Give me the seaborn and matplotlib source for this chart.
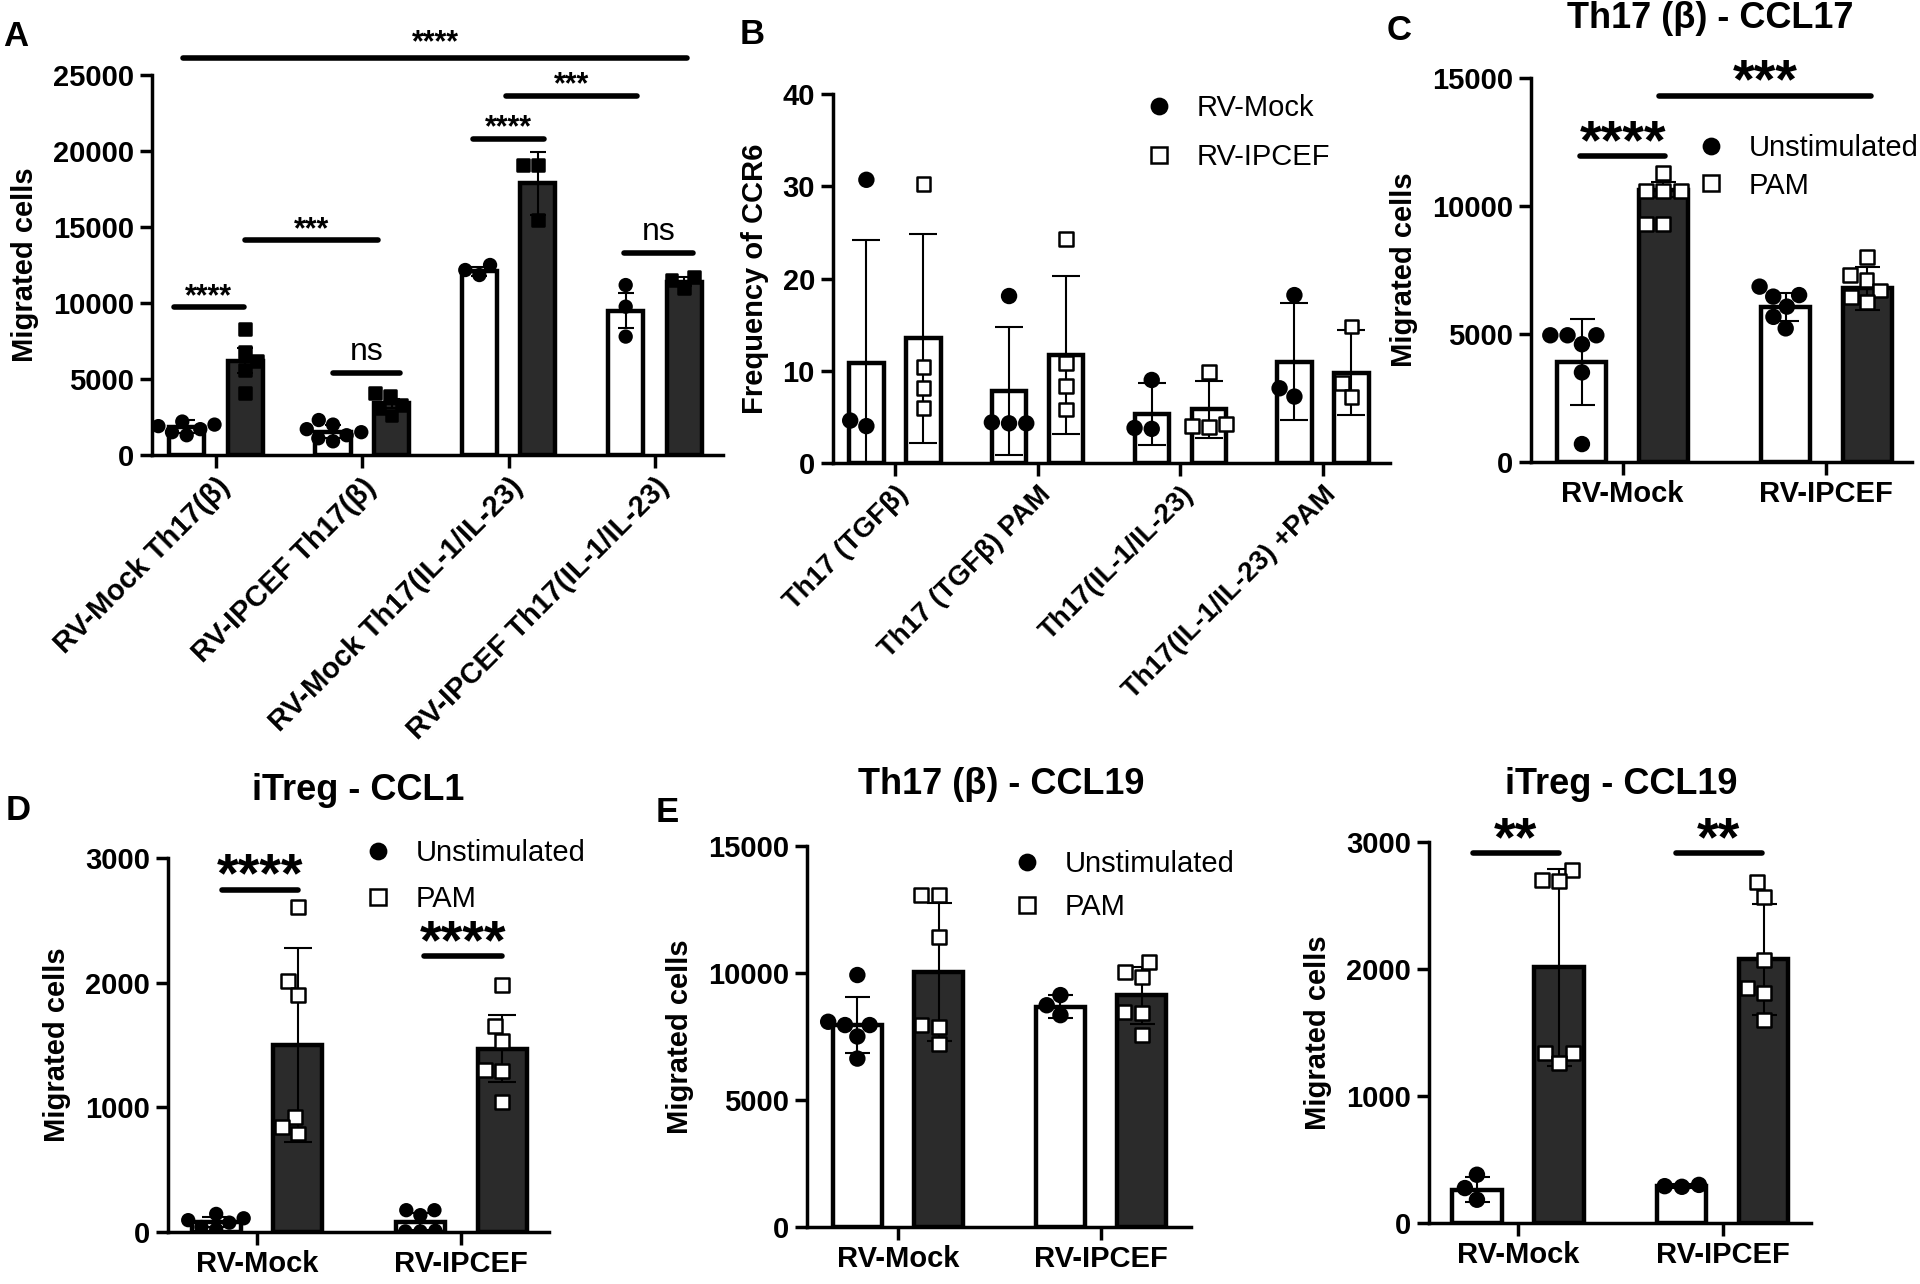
import numpy as np
import pandas as pd
import matplotlib
matplotlib.use('Agg')
import matplotlib.pyplot as plt
import seaborn as sns
from matplotlib.lines import Line2D

sns.set_theme(style='ticks')
plt.rcParams['font.family'] = ['Liberation Sans', 'DejaVu Sans']
plt.rcParams.update({'text.color': 'black', 'axes.labelcolor': 'black',
                     'xtick.color': 'black', 'ytick.color': 'black',
                     'axes.edgecolor': 'black'})

W, H = 1920, 1284

# %% podaci

# A - migracija po grupama
a_groups = ['RV-Mock Th17(β)', 'RV-IPCEF Th17(β)',
            'RV-Mock Th17(IL-1/IL-23)', 'RV-IPCEF Th17(IL-1/IL-23)']
a_conds = ['Unstimulated', 'PAM']
a_white_mean = [1870, 1540, 12100, 9500]
a_white_sd = [420, 450, 300, 1140]
a_dark_mean = [6200, 3400, 17870, 11400]
a_dark_sd = [810, 300, 2090, 300]
a_white_pts = [[2500, 2200, 2000, 1900, 1700, 1500, 1300],
               [2300, 2000, 1700, 1500, 1300, 1100, 900],
               [12500, 12170, 11840],
               [11180, 9760, 7790]]
a_dark_pts = [[8300, 6800, 6200, 5600, 4100],
              [4100, 3900, 3300, 3100, 2600],
              [19080, 19080, 15460],
              [11700, 11500, 11000]]

# B - frekvencija CCR6
b_groups = ['Th17 (TGFβ)', 'Th17 (TGFβ) PAM', 'Th17(IL-1/IL-23)', 'Th17(IL-1/IL-23) +PAM']
b_conds = ['RV-Mock', 'RV-IPCEF']
b_mock_mean = [10.8, 7.8, 5.3, 11.0]
b_mock_sd = [13.4, 6.9, 3.4, 6.3]
b_ipcef_mean = [13.5, 11.7, 5.8, 9.8]
b_ipcef_sd = [11.3, 8.6, 3.1, 4.6]
b_mock_pts = [[30.7, 4.6, 4.0], [18.1, 4.4, 4.3, 4.3], [9.0, 3.8, 3.7], [18.2, 8.1, 7.2]]
b_ipcef_pts = [[30.2, 10.4, 8.1, 6.0], [24.3, 10.8, 8.3, 5.8], [9.9, 4.2, 4.0, 3.9], [14.8, 8.7, 7.2]]

# C - Th17 (beta) CCL17
c_groups = ['RV-Mock', 'RV-IPCEF']
c_conds = ['Unstimulated', 'PAM']
c_unst_mean = [3900, 6070]
c_unst_sd = [1680, 550]
c_pam_mean = [10630, 6780]
c_pam_sd = [290, 850]
c_unst_pts = [[4950, 4950, 4950, 4600, 3500, 700], [6850, 6520, 6460, 6070, 5670, 5220]]
c_pam_pts = [[11300, 10600, 10600, 10600, 9300, 9300], [8020, 7300, 7110, 6700, 6460, 6260]]

# D - iTreg CCL1
d_unst_mean = [80, 84]
d_unst_sd = [40, 70]
d_pam_mean = [1500, 1470]
d_pam_sd = [777, 270]
d_unst_pts = [[145, 110, 95, 75, 40, 20], [175, 175, 135, 10, 5, 5]]
d_pam_pts = [[2610, 2010, 1900, 920, 840, 790], [1980, 1650, 1530, 1300, 1290, 1045]]

# E - Th17 (beta) CCL19
e1_unst_mean = [7950, 8670]
e1_unst_sd = [1090, 460]
e1_pam_mean = [10050, 9130]
e1_pam_sd = [2720, 1120]
e1_unst_pts = [[9920, 8080, 7950, 7950, 7500, 6630], [9130, 8730, 8340]]
e1_pam_pts = [[13070, 13070, 11430, 7950, 7880, 7220], [10440, 10050, 9850, 8470, 8410, 7550]]

# E - iTreg CCL19
e2_unst_mean = [262, 293]
e2_unst_sd = [100, 15]
e2_pam_mean = [2012, 2075]
e2_pam_sd = [778, 435]
e2_unst_pts = [[380, 275, 183], [300, 290, 285]]
e2_pam_pts = [[2777, 2699, 2694, 1336, 1336, 1258], [2686, 2568, 2070, 1847, 1808, 1598]]

DARK = '#2b2b2b'
FS = 21

# %% pomocne funkcije

fig = plt.figure(figsize=(W / 100, H / 100), dpi=100)


def panel(l, t, r, b):
    # pozicija ose u pikselima (t = vrh y ose, b = nula)
    return fig.add_axes([l / W, 1 - b / H, (r - l) / W, (b - t) / H])


def draw(ax, groups, conds, means, sds, pts, fills, markers, mfaces, msizes, cap):
    rows, prow = [], []
    for ci, c in enumerate(conds):
        for gi, g in enumerate(groups):
            rows.append({'group': g, 'cond': c, 'mean': means[ci][gi]})
            for v in pts[ci][gi]:
                prow.append({'group': g, 'cond': c, 'val': v})
    bars = pd.DataFrame(rows)
    points = pd.DataFrame(prow)

    sns.barplot(data=bars, x='group', y='mean', hue='cond', order=groups, hue_order=conds,
                palette=dict(zip(conds, fills)), errorbar=None, width=0.8, gap=0.4,
                edgecolor='black', linewidth=3.2, saturation=1, legend=False, ax=ax)
    for ci in range(2):
        xs = np.arange(len(groups)) + (-0.2 if ci == 0 else 0.2)
        ax.errorbar(xs, means[ci], yerr=sds[ci], fmt='none', ecolor='black',
                    elinewidth=1.5, capsize=cap, capthick=1.5, zorder=3)
    for ci, c in enumerate(conds):
        sub = points[points['cond'] == c]
        sns.swarmplot(data=sub, x='group', y='val', hue='cond', order=groups, hue_order=conds,
                      dodge=True, palette=dict(zip(conds, mfaces)), marker=markers[ci],
                      size=msizes[ci], edgecolor='black', linewidth=1.8, legend=False,
                      warn_thresh=1, ax=ax, zorder=4)


def style(ax, xlim, ylim, yticks, ylabel='Migrated cells'):
    ax.set_xlim(*xlim)
    ax.set_ylim(*ylim)
    ax.set_yticks(yticks)
    ax.set_yticklabels([str(v) for v in yticks], fontweight='bold', fontsize=FS)
    ax.set_xlabel('')
    ax.set_ylabel(ylabel, fontweight='bold', fontsize=FS, labelpad=10)
    sns.despine(ax=ax)
    for s in ['left', 'bottom']:
        ax.spines[s].set_linewidth(2.5)
    ax.tick_params(axis='both', width=2.5, length=9, pad=4)


def bracket(ax, x1, x2, y, text, ty, size, weight='bold', lw=4):
    ax.plot([x1, x2], [y, y], color='black', lw=lw, clip_on=False, solid_capstyle='round')
    # zvezdice su u fontu postavljene visoko, pa ih spustamo
    shift = -0.23 * size if '*' in text else 0
    ax.annotate(text, xy=((x1 + x2) / 2, ty), xytext=(0, shift), textcoords='offset points',
                ha='center', va='center', fontsize=size, fontweight=weight, annotation_clip=False)


def legend(ax, labels, markers, faces, x_px, y_px, spacing):
    handles = [Line2D([], [], ls='none', marker=m, markerfacecolor=f, markeredgecolor='black',
                      markeredgewidth=1.8, markersize=11) for m, f in zip(markers, faces)]
    ax.legend(handles, labels, loc='upper left', bbox_to_anchor=(x_px / W, 1 - y_px / H),
              bbox_transform=fig.transFigure, frameon=False, fontsize=FS, handlelength=0.8,
              handletextpad=0.9, labelspacing=spacing, borderpad=0, borderaxespad=0)


def letter(x, y, s):
    fig.text(x / W, 1 - y / H, s, ha='center', va='center', fontsize=25, fontweight='bold')


def title(x, y, s):
    fig.text(x / W, 1 - y / H, s, ha='center', va='center', fontsize=26, fontweight='bold')


# %% A
axA = panel(152, 75, 723, 455)
draw(axA, a_groups, a_conds, [a_white_mean, a_dark_mean], [a_white_sd, a_dark_sd],
     [a_white_pts, a_dark_pts], ['white', DARK], ['o', 's'], ['black', 'black'], [8.5, 8.5], 6)
style(axA, (-0.437, 3.465), (0, 25000), [0, 5000, 10000, 15000, 20000, 25000])
axA.set_xticks(range(4))
axA.set_xticklabels(a_groups, rotation=45, ha='right', rotation_mode='anchor',
                    fontweight='bold', fontsize=FS)
bracket(axA, -0.29, 0.19, 9760, '****', 10850, 22)
bracket(axA, 0.20, 1.11, 14150, '***', 15250, 22)
bracket(axA, 0.80, 1.26, 5420, 'ns', 6800, 23, weight='normal')
bracket(axA, 1.76, 2.24, 20770, '****', 21930, 22)
bracket(axA, 1.98, 2.88, 23620, '***', 24780, 22)
bracket(axA, 2.79, 3.26, 13270, 'ns', 14700, 23, weight='normal')
bracket(axA, -0.225, 3.22, 26140, '****', 27520, 22)
letter(16, 36, 'A')

# %% B
axB = panel(833, 94, 1390, 463)
draw(axB, b_groups, b_conds, [b_mock_mean, b_ipcef_mean], [b_mock_sd, b_ipcef_sd],
     [b_mock_pts, b_ipcef_pts], ['white', 'white'], ['o', 's'], ['black', 'white'], [10, 10], 10)
style(axB, (-0.434, 3.47), (0, 40), [0, 10, 20, 30, 40], ylabel='Frequency of CCR6')
axB.set_xticks(range(4))
axB.set_xticklabels(b_groups, rotation=45, ha='right', rotation_mode='anchor',
                    fontweight='bold', fontsize=FS - 1)
legend(axB, b_conds, ['o', 's'], ['black', 'white'], 1147, 94, 0.72)
letter(752, 35, 'B')

# %% C
axC = panel(1531, 78, 1912, 462)
draw(axC, c_groups, c_conds, [c_unst_mean, c_pam_mean], [c_unst_sd, c_pam_sd],
     [c_unst_pts, c_pam_pts], ['white', DARK], ['o', 's'], ['black', 'white'], [10, 10], 9)
style(axC, (-0.45, 1.42), (0, 15000), [0, 5000, 10000, 15000])
axC.set_xticks(range(2))
axC.set_xticklabels(c_groups, fontweight='bold', fontsize=FS)
bracket(axC, -0.21, 0.21, 11940, '****', 12900, 40)
bracket(axC, 0.18, 1.22, 14280, '***', 15300, 40)
legend(axC, c_conds, ['o', 's'], ['black', 'white'], 1699, 134, 0.33)
title(1710, 18, 'Th17 (β) - CCL17')
letter(1399, 30, 'C')

# %% D
axD = panel(168, 858, 549, 1232)
draw(axD, c_groups, c_conds, [d_unst_mean, d_pam_mean], [d_unst_sd, d_pam_sd],
     [d_unst_pts, d_pam_pts], ['white', DARK], ['o', 's'], ['black', 'white'], [8.5, 10], 10)
style(axD, (-0.436, 1.43), (0, 3000), [0, 1000, 2000, 3000])
axD.set_xticks(range(2))
axD.set_xticklabels(c_groups, fontweight='bold', fontsize=FS)
bracket(axD, -0.17, 0.20, 2746, '****', 2946, 40)
bracket(axD, 0.82, 1.20, 2210, '****', 2410, 40)
legend(axD, c_conds, ['o', 's'], ['black', 'white'], 366, 839, 0.62)
title(358, 790, 'iTreg - CCL1')
letter(18, 810, 'D')

# %% E1
axE1 = panel(807, 846, 1191, 1227)
draw(axE1, c_groups, c_conds, [e1_unst_mean, e1_pam_mean], [e1_unst_sd, e1_pam_sd],
     [e1_unst_pts, e1_pam_pts], ['white', DARK], ['o', 's'], ['black', 'white'], [10, 10], 9)
style(axE1, (-0.448, 1.443), (0, 15000), [0, 5000, 10000, 15000])
axE1.set_xticks(range(2))
axE1.set_xticklabels(c_groups, fontweight='bold', fontsize=FS)
legend(axE1, c_conds, ['o', 's'], ['black', 'white'], 1015, 850, 0.52)
title(1001, 785, 'Th17 (β) - CCL19')
letter(667, 812, 'E')

# %% E2
axE2 = panel(1429, 842, 1811, 1223)
draw(axE2, c_groups, c_conds, [e2_unst_mean, e2_pam_mean], [e2_unst_sd, e2_pam_sd],
     [e2_unst_pts, e2_pam_pts], ['white', DARK], ['o', 's'], ['black', 'white'], [10, 10], 9)
style(axE2, (-0.434, 1.43), (0, 3000), [0, 1000, 2000, 3000])
axE2.set_xticks(range(2))
axE2.set_xticklabels(c_groups, fontweight='bold', fontsize=FS)
bracket(axE2, -0.22, 0.20, 2913, '**', 3104, 40)
bracket(axE2, 0.77, 1.19, 2913, '**', 3104, 40)
title(1621, 785, 'iTreg - CCL19')

fig.savefig('out.png', dpi=100)
